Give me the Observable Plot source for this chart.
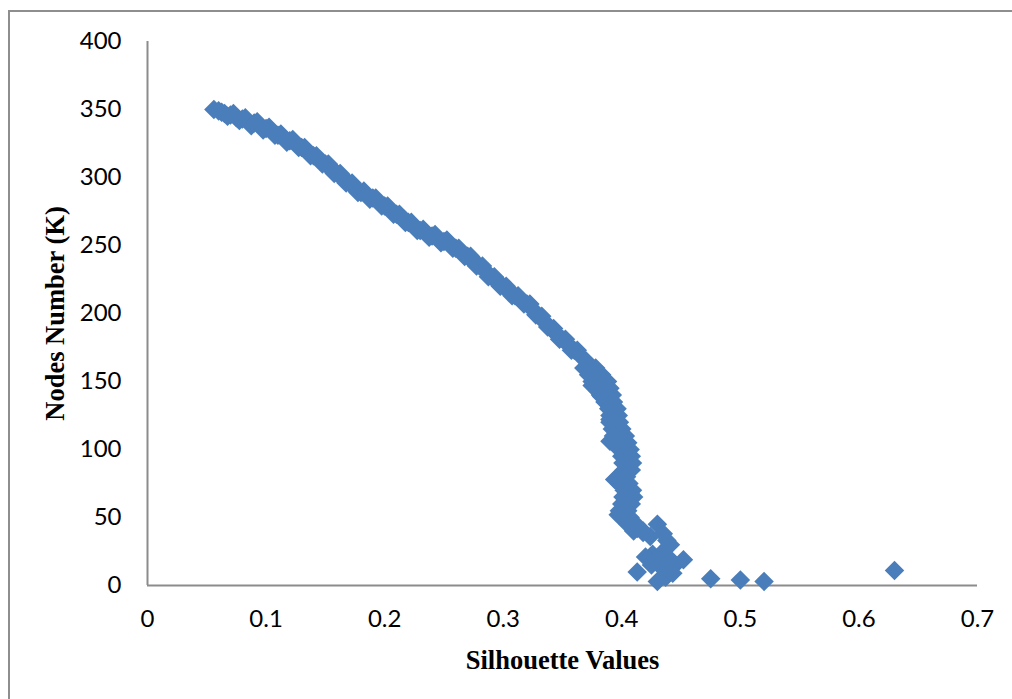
<!DOCTYPE html>
<html>
<head>
<meta charset="utf-8">
<script src="https://cdn.jsdelivr.net/npm/d3@7"></script>
<script src="https://cdn.jsdelivr.net/npm/@observablehq/plot@0.6"></script>
<style>
  html, body { margin: 0; padding: 0; background: #fff; overflow: hidden; }
  #wrap { position: relative; width: 1012px; height: 699px; }
  #frame { position: absolute; left: 8px; top: 10px; width: 1100px; height: 800px;
           border-left: 2px solid #8e8e8e; border-top: 2px solid #8e8e8e; pointer-events: none; }
</style>
</head>
<body>
<div id="wrap"><div id="frame"></div></div>
<script>
// Silhouette value (x) and number of nodes K (y)
const silhouette = [
  0.056, 0.060, 0.065, 0.070, 0.075, 0.080, 0.085, 0.090, 0.095, 0.100,
  0.105, 0.110, 0.115, 0.120, 0.125, 0.130, 0.135, 0.140, 0.145, 0.150,
  0.155, 0.160, 0.165, 0.170, 0.175, 0.180, 0.185, 0.190, 0.195, 0.200,
  0.205, 0.210, 0.215, 0.220, 0.225, 0.230, 0.235, 0.240, 0.245, 0.250,
  0.255, 0.260, 0.265, 0.270, 0.275, 0.280, 0.285, 0.290, 0.295, 0.300,
  0.305, 0.310, 0.315, 0.320, 0.325, 0.330, 0.335, 0.340, 0.345, 0.350,
  0.355, 0.360, 0.365, 0.370, 0.372, 0.375, 0.378, 0.375, 0.380, 0.383,
  0.386, 0.390, 0.392, 0.390, 0.393, 0.395, 0.397, 0.390, 0.399, 0.401,
  0.403, 0.405, 0.405, 0.400, 0.394, 0.398, 0.403, 0.407, 0.407, 0.405,
  0.402, 0.397, 0.403, 0.408, 0.413, 0.418, 0.424, 0.430, 0.435, 0.438,
  0.441, 0.436, 0.426, 0.420, 0.432, 0.440, 0.445, 0.452, 0.413, 0.430,
  0.437, 0.443, 0.435, 0.425, 0.475, 0.500, 0.520, 0.630,
  0.0625, 0.0675, 0.0725, 0.0775, 0.0825, 0.0875, 0.0925, 0.0975, 0.1025, 0.1075,
  0.1125, 0.1175, 0.1225, 0.1275, 0.1325, 0.1375, 0.1425, 0.1475, 0.1525, 0.1575,
  0.1625, 0.1675, 0.1725, 0.1775, 0.1825, 0.1875, 0.1925, 0.1975, 0.2025, 0.2075,
  0.2125, 0.2175, 0.2225, 0.2275, 0.2325, 0.2375, 0.2425, 0.2475, 0.2525, 0.2575,
  0.2625, 0.2675, 0.2725, 0.2775, 0.2825, 0.2875, 0.2925, 0.2975, 0.3025, 0.3075,
  0.3125, 0.3175, 0.3225, 0.3275, 0.3325, 0.3375, 0.3425, 0.3475, 0.3525, 0.3575,
  0.3625,
  0.368, 0.378, 0.372, 0.383, 0.375, 0.388, 0.378, 0.390, 0.382, 0.392,
  0.386, 0.393, 0.389, 0.396, 0.390, 0.397, 0.390, 0.398, 0.392, 0.400,
  0.393, 0.403, 0.394, 0.405, 0.398, 0.407, 0.400, 0.408, 0.401, 0.409,
  0.402, 0.408, 0.397, 0.404, 0.400, 0.406, 0.402, 0.409, 0.401, 0.410,
  0.400, 0.408, 0.398, 0.405, 0.400, 0.407, 0.405, 0.412, 0.410, 0.418
];
const nodes = [
  350, 349, 347, 346, 344, 343, 341, 340, 338, 336,
  334, 331, 329, 327, 325, 322, 319, 316, 313, 310,
  307, 303, 300, 296, 292, 289, 287, 285, 282, 279,
  276, 273, 270, 267, 264, 261, 259, 257, 255, 253,
  251, 248, 245, 242, 239, 235, 231, 227, 224, 220,
  216, 213, 210, 207, 203, 198, 194, 189, 185, 181,
  177, 173, 169, 165, 160, 155, 150, 147, 143, 139,
  135, 131, 127, 122, 118, 113, 109, 106, 104, 99,
  94, 89, 85, 82, 78, 75, 72, 68, 64, 60,
  56, 52, 49, 46, 42, 39, 36, 45, 38, 33,
  30, 26, 23, 21, 18, 20, 15, 19, 10, 3,
  6, 9, 12, 15, 5, 4, 3, 11,
  348, 345, 347, 342, 344, 338, 341, 335, 337, 331,
  332, 326, 328, 322, 322, 316, 316, 310, 310, 303,
  303, 296, 296, 289, 290, 284, 285, 279, 279, 273,
  273, 267, 267, 261, 262, 256, 258, 252, 254, 248,
  248, 242, 242, 235, 235, 227, 227, 220, 220, 213,
  213, 207, 207, 199, 198, 190, 189, 181, 181, 173,
  173,
  160, 160, 155, 155, 150, 150, 145, 145, 140, 140,
  135, 135, 130, 130, 125, 125, 120, 120, 115, 115,
  110, 110, 105, 105, 100, 100, 95, 95, 90, 90,
  85, 85, 80, 80, 75, 75, 70, 70, 65, 65,
  60, 60, 55, 55, 50, 50, 45, 45, 40, 40
];
const xTicks = [0, 0.1, 0.2, 0.3, 0.4, 0.5, 0.6, 0.7];
const xTickLabels = ["0", "0.1", "0.2", "0.3", "0.4", "0.5", "0.6", "0.7"];
const yTicks = [0, 50, 100, 150, 200, 250, 300, 350, 400];
const yTickLabels = ["0", "50", "100", "150", "200", "250", "300", "350", "400"];
const xTitle = "Silhouette Values";
const yTitle = "Nodes Number (K)";

const data = silhouette.map((s, i) => ({s, k: nodes[i]}));
const blue = "#4a7ebb";
const axisGray = "#8c8c8c";
const titleFont = "'Liberation Serif', 'Times New Roman', serif";

const chart = Plot.plot({
  width: 1012,
  height: 699,
  marginLeft: 147,
  marginRight: 35,
  marginTop: 41,
  marginBottom: 114,
  style: { fontFamily: "Lato, 'Open Sans', sans-serif", fontSize: "24px", color: "#000", background: "transparent", overflow: "visible" },
  x: { domain: [0, 0.7] },
  y: { domain: [0, 400] },
  marks: [
    Plot.axisX(xTicks, { tickSize: 0, tickPadding: 24, label: null, fontSize: 24,
      tickFormat: d => xTickLabels[xTicks.indexOf(d)] }),
    Plot.axisY(yTicks, { tickSize: 0, tickPadding: 26, label: null, fontSize: 24,
      tickFormat: d => yTickLabels[yTicks.indexOf(d)] }),
    Plot.ruleY([0], { stroke: axisGray, strokeWidth: 2 }),
    Plot.ruleX([0], { stroke: axisGray, strokeWidth: 2 }),
    Plot.dot(data, { x: "s", y: "k", symbol: "diamond2", r: 8.8, fill: blue, stroke: "none" }),
    Plot.text([xTitle], { frameAnchor: "bottom", dy: 75, text: d => d, textAnchor: "middle", lineAnchor: "middle",
      fontFamily: titleFont, fontWeight: "bold", fontSize: 26.5, fill: "#000" }),
    Plot.text([yTitle], { frameAnchor: "left", dx: -92, text: d => d, rotate: -90, textAnchor: "middle", lineAnchor: "middle",
      fontFamily: titleFont, fontWeight: "bold", fontSize: 26.5, fill: "#000" })
  ]
});
chart.style.position = "absolute";
chart.style.left = "0";
chart.style.top = "0";
document.getElementById("wrap").prepend(chart);
</script>
</body>
</html>
